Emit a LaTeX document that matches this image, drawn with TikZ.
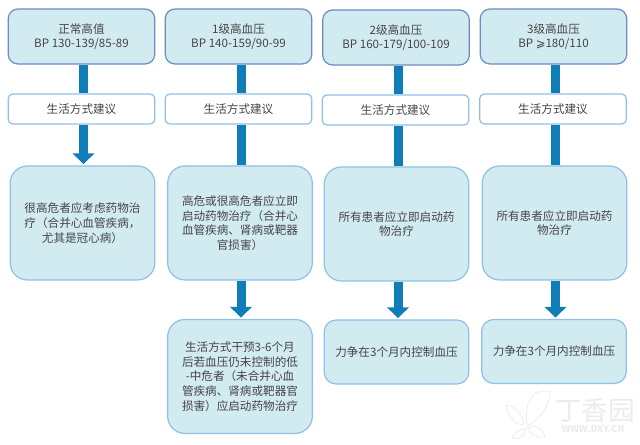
\documentclass[tikz,border=0pt]{standalone}
\usepackage{fontspec}
\setmainfont{Noto Sans CJK SC}
\newfontfamily\symfont{DejaVu Sans}
\usetikzlibrary{arrows.meta}
\definecolor{boxfill}{HTML}{D2EBF1}
\definecolor{headedge}{HTML}{6A8CC0}
\definecolor{softedge}{HTML}{8FC0E8}
\definecolor{barblue}{HTML}{0F7DB8}
\definecolor{txt}{HTML}{454545}
\definecolor{wm}{HTML}{ECECEC}
\tikzset{
  x=0.75pt,y=-0.75pt,
  base/.style={rectangle,inner sep=0pt,align=center,text=txt,font=\fontsize{8.7pt}{11pt}\selectfont,line width=0.9pt},
  headbox/.style={base,draw=headedge,fill=boxfill,rounded corners=7.5pt,minimum width=110pt,minimum height=41.3pt},
  advice/.style={base,draw=softedge,fill=white,rounded corners=3.5pt,minimum width=110pt,minimum height=22.5pt},
  bigbox/.style={base,draw=softedge,fill=boxfill,rounded corners=13pt,minimum width=108.5pt,minimum height=85.5pt,text width=104pt},
  smallbox/.style={base,draw=softedge,fill=boxfill,rounded corners=9pt,minimum width=108.5pt,minimum height=48pt,text width=104pt},
  bar/.style={draw=barblue,line width=6.75pt},
  arrowbar/.style={bar,-{Triangle[width=16pt,length=8pt]},shorten >=1pt},
}
\begin{document}
\begin{tikzpicture}
\useasboundingbox (0,0) rectangle (640,445);
\fill[white] (0,0) rectangle (640,445);
% watermark
\draw[wm,line width=0.5pt] (530,400) .. controls (535,390) and (545,390) .. (550,392) .. controls (550,405) and (540,420) .. (527,426) .. controls (526,415) and (526,408) .. (530,400);
\draw[wm,line width=0.5pt] (506,405) .. controls (515,405) and (522,415) .. (524,425) .. controls (515,425) and (508,417) .. (506,405);
\draw[wm,line width=0.5pt] (528,428) .. controls (538,424) and (544,430) .. (545,437) .. controls (535,438) and (530,434) .. (528,428);
\draw[wm,line width=0.5pt] (512,438) .. controls (514,432) and (520,430) .. (526,428) .. controls (525,435) and (520,441) .. (512,438);
\node[text=wm,inner sep=0pt,font=\fontsize{20pt}{20pt}\selectfont] (wmtext) at (595,410) {丁香园};
\node[text=wm,inner sep=0pt,font=\bfseries\fontsize{7pt}{7pt}\selectfont] (wmurl) at (593,429) {WWW.DXY.CN};
% column 1
\node[headbox] (h1) at (81.5,36.5) {正常高值\\BP 130-139/85-89};
\node[advice] (a1) at (81.5,109) {生活方式建议};
\node[bigbox] (b1) at (82.5,223) {很高危者应考虑药物治\\疗（合并心血管疾病，\\尤其是冠心病）};
% column 2
\node[headbox] (h2) at (238.5,36.5) {1级高血压\\BP 140-159/90-99};
\node[advice] (a2) at (238.5,109) {生活方式建议};
\node[bigbox] (b2) at (240,223) {高危或很高危者应立即\\启动药物治疗（合并心\\血管疾病、肾病或靶器\\官损害）};
\node[bigbox] (c2) at (240,376.5) {生活方式干预3-6个月\\后若血压仍未控制的低\\-中危者（未合并心血\\管疾病、肾病或靶器官\\损害）应启动药物治疗};
% column 3
\node[headbox] (h3) at (396,37.5) {2级高血压\\BP 160-179/100-109};
\node[advice] (a3) at (395.5,110) {生活方式建议};
\node[bigbox] (b3) at (396.5,224) {所有患者应立即启动药\\物治疗};
\node[smallbox] (c3) at (396.5,352) {力争在3个月内控制血压};
% column 4
\node[headbox] (h4) at (553.5,36.5) {3级高血压\\BP {\symfont ⩾}180/110};
\node[advice] (a4) at (553,109) {生活方式建议};
\node[bigbox] (b4) at (554.5,223) {所有患者应立即启动药\\物治疗};
\node[smallbox] (c4) at (554,351.5) {力争在3个月内控制血压};
% connector columns
\coordinate (x1) at (83.5,0);
\coordinate (x2) at (241,0);
\coordinate (x3) at (398,0);
\coordinate (x4) at (555.5,0);
% connectors
\draw[bar] (x1 |- h1.south) -- (x1 |- a1.north);
\draw[arrowbar] (x1 |- a1.south) -- (x1 |- b1.north);
\draw[bar] (x2 |- h2.south) -- (x2 |- a2.north);
\draw[bar] (x2 |- a2.south) -- (x2 |- b2.north);
\draw[arrowbar] (x2 |- b2.south) -- (x2 |- c2.north);
\draw[bar] (x3 |- h3.south) -- (x3 |- a3.north);
\draw[bar] (x3 |- a3.south) -- (x3 |- b3.north);
\draw[arrowbar] (x3 |- b3.south) -- (x3 |- c3.north);
\draw[bar] (x4 |- h4.south) -- (x4 |- a4.north);
\draw[bar] (x4 |- a4.south) -- (x4 |- b4.north);
\draw[arrowbar] (x4 |- b4.south) -- (x4 |- c4.north);
\end{tikzpicture}
\end{document}
